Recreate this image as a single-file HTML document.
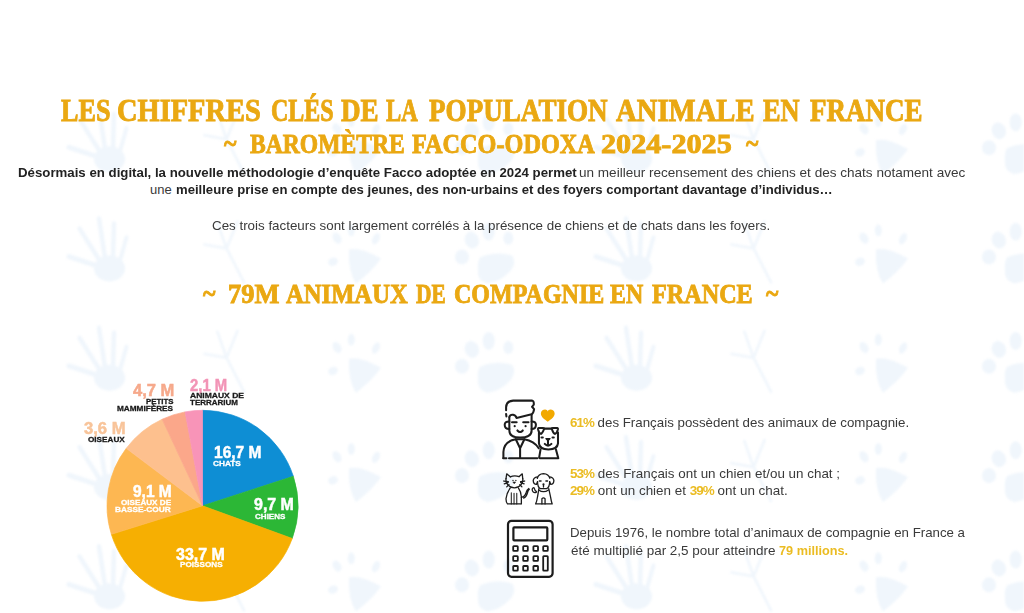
<!DOCTYPE html>
<html><head><meta charset="utf-8">
<style>
html,body{margin:0;padding:0;background:#fff;width:1024px;height:613px;overflow:hidden;}
body{position:relative;font-family:"Liberation Sans",sans-serif;}
.a{position:absolute;white-space:nowrap;transform-origin:0 0;line-height:1;}
.serif{font-family:"Liberation Serif",serif;font-weight:bold;color:#EAA812;-webkit-text-stroke:0.9px #EAA812;}
.p{font-size:13px;color:#3a3a3a;}
.p b{color:#222;}
.s{font-size:13px;color:#3a3a3a;}
.s b{color:#EBBC22;letter-spacing:-0.9px;}
.n{font-weight:bold;font-size:16px;-webkit-text-stroke:0.5px currentColor;}
.l{font-weight:bold;font-size:8px;color:#1a1a1a;-webkit-text-stroke:0.3px currentColor;}
.w{color:#fff;}
</style></head><body>
<svg class="bgp" style="position:absolute;left:0;top:0;filter:blur(0.9px)" width="1024" height="613" viewBox="0 0 1024 613">
<defs><pattern id="pp" patternUnits="userSpaceOnUse" x="0" y="212.5" width="527" height="109.3">
<g fill="#F0F6FC" stroke="none">
<ellipse cx="109.5" cy="56" rx="15.5" ry="13"/>
<g stroke="#F0F6FC" stroke-linecap="round" fill="none">
<path d="M96 53 L69 44" stroke-width="5"/>
<path d="M99 47 L79.5 16" stroke-width="4.5"/>
<path d="M105 45 L99 6" stroke-width="4.5"/>
<path d="M113 45 L114 11" stroke-width="4.5"/>
<path d="M120 48 L126.5 25" stroke-width="4"/>
<path d="M244 70 L226.6 36 L204.4 32 M226.6 36 L217.4 10 M226.6 36 L237.6 9" stroke-width="2.6"/>
</g>
<ellipse cx="337" cy="25.6" rx="4" ry="6" transform="rotate(-30 337 25.6)"/>
<ellipse cx="351.3" cy="17.8" rx="3.5" ry="6"/>
<ellipse cx="376" cy="26.2" rx="3.5" ry="6" transform="rotate(25 376 26.2)"/>
<ellipse cx="333" cy="49.2" rx="5" ry="4" transform="rotate(-20 333 49.2)"/>
<path d="M349 37 Q360 34 381 46 Q372 59 356 71 Q348 59 349 37 Z"/>
<ellipse cx="471.8" cy="27.6" rx="7" ry="8.5" transform="rotate(-20 471.8 27.6)"/>
<ellipse cx="488.7" cy="19.1" rx="6" ry="9"/>
<ellipse cx="508.3" cy="25.6" rx="5" ry="6.5"/>
<ellipse cx="462" cy="44.5" rx="7" ry="7.5"/>
<path d="M480 45 Q496 38 512 43 Q517 49 511 58 Q500 70 487 71 Q477 68 478 58 Q477 50 480 45 Z"/>
</g>
</pattern></defs>
<rect x="0" y="88" width="1024" height="525" fill="url(#pp)"/>
</svg>

<div class="a serif" id="t0" style="left:60.75px;top:93.70px;font-size:32px;transform:scaleX(0.8186);">LES</div>
<div class="a serif" id="t1" style="left:117.21px;top:93.70px;font-size:32px;transform:scaleX(0.8881);">CHIFFRES</div>
<div class="a serif" id="t2" style="left:270.97px;top:93.70px;font-size:32px;transform:scaleX(0.7500);">CLÉS</div>
<div class="a serif" id="t3" style="left:340.56px;top:93.70px;font-size:32px;transform:scaleX(0.8465);">DE</div>
<div class="a serif" id="t4" style="left:386.04px;top:93.70px;font-size:32px;transform:scaleX(0.7156);">LA</div>
<div class="a serif" id="t5" style="left:428.51px;top:93.70px;font-size:32px;transform:scaleX(0.8469);">POPULATION</div>
<div class="a serif" id="t6" style="left:616.00px;top:93.70px;font-size:32px;transform:scaleX(0.8961);">ANIMALE</div>
<div class="a serif" id="t7" style="left:763.07px;top:93.70px;font-size:32px;transform:scaleX(0.8244);">EN</div>
<div class="a serif" id="t8" style="left:809.56px;top:93.70px;font-size:32px;transform:scaleX(0.8447);">FRANCE</div>
<div class="a serif" id="subt1" style="left:224.00px;top:129.00px;font-size:28px;transform:scaleX(0.8533);">~</div>
<div class="a serif" id="u0" style="left:249.51px;top:130.00px;font-size:28px;transform:scaleX(0.8426);">BAROMÈTRE</div>
<div class="a serif" id="u1" style="left:411.70px;top:130.00px;font-size:28px;transform:scaleX(0.8664);">FACCO-ODOXA</div>
<div class="a serif" id="u2" style="left:601.46px;top:130.00px;font-size:28px;transform:scaleX(1.0777);">2024-2025</div>
<div class="a serif" id="subt2" style="left:745.77px;top:129.00px;font-size:28px;transform:scaleX(0.8467);">~</div>

<div class="a p" id="p1a" style="left:17.60px;top:165.50px;transform:scaleX(1.0190);"><b>Désormais en digital, la nouvelle méthodologie d’enquête Facco adoptée en 2024 permet</b></div>
<div class="a p" id="p1b" style="left:578.96px;top:165.50px;transform:scaleX(1.0419);">un meilleur recensement des chiens et des chats notament avec</div>
<div class="a p" id="p2a" style="left:150.10px;top:183.20px;transform:scaleX(1.0000);">une</div>
<div class="a p" id="p2b" style="left:176.40px;top:183.20px;transform:scaleX(1.0078);"><b>meilleure prise en compte des jeunes, des non-urbains et des foyers comportant davantage d’individus…</b></div>
<div class="a p" id="p3" style="left:212.19px;top:219.3px;transform:scaleX(1.0271);">Ces trois facteurs sont largement corrélés à la présence de chiens et de chats dans les foyers.</div>

<div class="a serif" id="h2t1" style="left:203.26px;top:279.00px;font-size:28px;transform:scaleX(0.8533);">~</div>
<div class="a serif" id="v0" style="left:228.11px;top:280.00px;font-size:28px;transform:scaleX(0.9434);">79M</div>
<div class="a serif" id="v1" style="left:285.71px;top:280.00px;font-size:28px;transform:scaleX(0.8790);">ANIMAUX</div>
<div class="a serif" id="v2" style="left:416.24px;top:280.00px;font-size:28px;transform:scaleX(0.7632);">DE</div>
<div class="a serif" id="v3" style="left:453.70px;top:280.00px;font-size:28px;transform:scaleX(0.8578);">COMPAGNIE</div>
<div class="a serif" id="v4" style="left:610.44px;top:280.00px;font-size:28px;transform:scaleX(0.8538);">EN</div>
<div class="a serif" id="v5" style="left:652.48px;top:280.00px;font-size:28px;transform:scaleX(0.8635);">FRANCE</div>
<div class="a serif" id="h2t2" style="left:765.77px;top:279.00px;font-size:28px;transform:scaleX(0.8467);">~</div>

<svg class="a" style="left:0;top:0" width="1024" height="613" viewBox="0 0 1024 613" id="pie">
<path fill="#0E8ED4" stroke="#0E8ED4" stroke-width="0.7" stroke-linejoin="round" d="M202.5 505.8L202.50 410.30A95.5 95.5 0 0 1 293.33 476.29Z"/>
<path fill="#2CB736" stroke="#2CB736" stroke-width="0.7" stroke-linejoin="round" d="M202.5 505.8L293.33 476.29A95.5 95.5 0 0 1 292.24 538.46Z"/>
<path fill="#F6AF02" stroke="#F6AF02" stroke-width="0.7" stroke-linejoin="round" d="M202.5 505.8L292.24 538.46A95.5 95.5 0 0 1 111.37 534.36Z"/>
<path fill="#FDB752" stroke="#FDB752" stroke-width="0.7" stroke-linejoin="round" d="M202.5 505.8L111.37 534.36A95.5 95.5 0 0 1 126.23 448.33Z"/>
<path fill="#FDC08E" stroke="#FDC08E" stroke-width="0.7" stroke-linejoin="round" d="M202.5 505.8L126.23 448.33A95.5 95.5 0 0 1 162.14 419.25Z"/>
<path fill="#FBA78A" stroke="#FBA78A" stroke-width="0.7" stroke-linejoin="round" d="M202.5 505.8L162.14 419.25A95.5 95.5 0 0 1 185.10 411.90Z"/>
<path fill="#F894B8" stroke="#F894B8" stroke-width="0.7" stroke-linejoin="round" d="M202.5 505.8L185.10 411.90A95.5 95.5 0 0 1 202.50 410.30Z"/>
</svg>
<div class="a n w" id="n1" style="left:214.43px;top:445.00px;transform:scaleX(0.9702);">16,7 M</div>
<div class="a l w" id="l1" style="left:213.20px;top:460.10px;transform:scaleX(1.0333);">CHATS</div>
<div class="a n w" id="n2" style="left:253.60px;top:497.10px;transform:scaleX(0.9974);">9,7 M</div>
<div class="a l w" id="l2" style="left:255.00px;top:512.60px;transform:scaleX(1.0067);">CHIENS</div>
<div class="a n w" id="n3" style="left:176.10px;top:546.80px;transform:scaleX(0.9979);">33,7 M</div>
<div class="a l w" id="l3" style="left:180.40px;top:561.40px;transform:scaleX(1.0190);">POISSONS</div>
<div class="a n w" id="n4" style="left:133.30px;top:484.30px;transform:scaleX(0.9667);">9,1 M</div>
<div class="a l w" id="l4a" style="left:121.30px;top:498.50px;transform:scaleX(1.0143);">OISEAUX DE</div>
<div class="a l w" id="l4b" style="left:115.00px;top:505.70px;transform:scaleX(1.0370);">BASSE-COUR</div>
<div class="a n" id="n5" style="left:84.20px;top:420.70px;color:#F8C49A;transform:scaleX(1.0385);">3,6 M</div>
<div class="a l" id="l5" style="left:88.00px;top:436.30px;transform:scaleX(1.0194);">OISEAUX</div>
<div class="a n" id="n6" style="left:133.40px;top:382.90px;color:#F6A98B;transform:scaleX(1.0333);">4,7 M</div>
<div class="a l" id="l6a" style="left:146.30px;top:397.60px;transform:scaleX(0.9786);">PETITS</div>
<div class="a l" id="l6b" style="left:117.30px;top:405.30px;transform:scaleX(1.0255);">MAMMIFÈRES</div>
<div class="a n" id="n7" style="left:190.30px;top:377.80px;color:#F294B6;transform:scaleX(0.9282);">2,1 M</div>
<div class="a l" id="l7a" style="left:190.30px;top:392.10px;transform:scaleX(1.0660);">ANIMAUX DE</div>
<div class="a l" id="l7b" style="left:190.30px;top:398.70px;transform:scaleX(0.9979);">TERRARIUM</div>


<svg class="a" id="ic1" style="left:498px;top:396px" width="64" height="66" viewBox="0 0 594 613">
<g fill="none" stroke="#1c1c1c" stroke-width="19" stroke-linecap="round" stroke-linejoin="round">
<path d="M75 133 L75 105 Q78 45 140 43 L318 43 Q335 48 332 80 L316 100 L335 122 Q330 160 312 170 Q240 188 172 205 Q165 180 140 175 Q112 172 105 195"/>
<path d="M75 167 L78 190"/>
<path d="M105 200 L105 320 Q105 386 205 386 Q312 386 312 320 L312 172"/>
<path d="M105 236 Q62 236 62 266 Q62 306 105 306"/>
<path d="M312 236 Q352 236 352 266 Q352 306 312 306"/>
<path d="M130 243 L173 243 M234 243 L283 243"/>
<path d="M180 320 Q205 348 230 320"/>
<path d="M50 575 L50 520 Q55 420 165 402 L245 402 Q335 418 378 485"/>
<path d="M165 402 L205 485 L245 402 M205 485 L205 575"/>
<path d="M48 578 L78 578 M102 578 L365 578 M388 578 L560 578"/>
<path d="M428 303 L499 303"/>
<path d="M380 340 L380 440 Q385 496 468 496 Q552 496 557 440 L557 340"/>
<path d="M378 298 Q370 298 372 310 Q380 345 398 352 Q410 350 428 305 Q430 298 420 298 Z M507 298 Q497 298 499 305 Q515 350 530 352 Q548 345 556 310 Q558 298 550 298 Z"/>
<path d="M404 385 L416 385 M506 385 L518 385"/>
<path d="M464 410 L464 455 M434 445 Q464 478 496 445"/>
<path d="M395 496 L382 572 M538 496 L558 572"/>
</g>
<circle cx="155" cy="280" r="10" fill="#1c1c1c"/><circle cx="256" cy="280" r="10" fill="#1c1c1c"/>
<path d="M444 396 L484 396 L464 418 Z" fill="#1c1c1c" stroke="#1c1c1c" stroke-width="10" stroke-linejoin="round"/>
<path fill="#F2A900" d="M462 240 C430 215 398 195 398 163 C398 138 418 126 437 126 C450 126 458 133 462 143 C466 133 474 126 487 126 C506 126 526 138 526 163 C526 195 494 215 462 240 Z"/>
</svg>
<svg class="a" id="ic2" style="left:500px;top:468px" width="58" height="42" viewBox="0 0 847 613">
<g fill="none" stroke="#1c1c1c" stroke-width="19" stroke-linecap="round" stroke-linejoin="round">
<path d="M150 128 Q210 105 280 125"/>
<path d="M150 128 L98 85 L88 155 M280 125 L325 85 L332 155"/>
<path d="M88 155 Q80 205 112 243 Q150 290 210 290 Q270 290 308 243 Q340 205 332 155"/>
<path d="M55 190 L122 200 M62 232 L118 215 M98 275 L132 242 M360 190 L300 200 M352 232 L302 215 M320 275 L290 242"/>
<path d="M150 290 Q95 370 88 445 Q86 505 110 525 L300 525"/>
<path d="M165 360 L165 525 M205 370 L205 525 M245 370 L245 525" stroke-width="15"/>
<path d="M268 290 Q305 340 312 420 L312 525"/>
<path d="M312 430 Q362 420 380 360 Q392 315 420 300 M345 440 Q385 425 400 365 Q410 325 428 310"/>
<path d="M545 150 Q560 85 635 82 Q710 85 728 150"/>
<path d="M545 130 Q490 140 485 185 Q490 240 532 240 L548 200 M728 130 Q782 140 787 185 Q782 240 742 240 L725 200"/>
<path d="M548 200 Q548 280 590 300 L680 300 Q725 280 725 200"/>
<path d="M575 190 L600 190 M670 190 L695 190 M635 255 L635 278"/>
<path d="M565 320 Q635 372 708 320"/>
<path d="M568 300 L548 420 Q540 480 520 525 L762 525 Q748 480 738 420 L712 300"/>
<path d="M612 525 L612 448 Q635 425 658 448 L658 525"/>
<path d="M530 355 Q470 370 470 310 Q478 282 498 290 Q508 330 532 345"/>
</g>
<circle cx="190" cy="182" r="10" fill="#1c1c1c"/><circle cx="232" cy="182" r="10" fill="#1c1c1c"/>
<path d="M188 205 L228 205 L208 230 Z" fill="#1c1c1c" stroke="#1c1c1c" stroke-width="8" stroke-linejoin="round"/>
<circle cx="635" cy="240" r="16" fill="#1c1c1c"/>
</svg>
<svg class="a" id="ic3" style="left:505px;top:518px" width="50" height="61" viewBox="0 0 50 61">
<g fill="none" stroke="#1c1c1c" stroke-width="2.2" stroke-linejoin="round">
<rect x="3" y="2.8" width="44.6" height="56" rx="3.5"/>
<rect x="8.4" y="9.4" width="33.9" height="12.9" rx="0.8"/>
<g stroke-width="1.8">
<rect x="8.2" y="28.2" width="4.6" height="4.6" rx="0.6"/><rect x="18.2" y="28.2" width="4.6" height="4.6" rx="0.6"/><rect x="28.4" y="28.2" width="4.6" height="4.6" rx="0.6"/><rect x="38.2" y="28.2" width="4.6" height="4.6" rx="0.6"/>
<rect x="8.2" y="38.2" width="4.6" height="4.6" rx="0.6"/><rect x="18.2" y="38.2" width="4.6" height="4.6" rx="0.6"/><rect x="28.4" y="38.2" width="4.6" height="4.6" rx="0.6"/>
<rect x="8.2" y="48" width="4.6" height="4.6" rx="0.6"/><rect x="18.2" y="48" width="4.6" height="4.6" rx="0.6"/><rect x="28.4" y="48" width="4.6" height="4.6" rx="0.6"/>
<rect x="38.2" y="38.2" width="4.6" height="14.4" rx="0.6"/>
</g></g>
</svg>
<div class="a s" id="s1" style="left:570.39px;top:416.20px;transform:scaleX(1.0239);"><b>61%</b> des Français possèdent des animaux de compagnie.</div>
<div class="a s" id="s2" style="left:570.39px;top:466.60px;transform:scaleX(1.0314);"><b>53%</b> des Français ont un chien et/ou un chat ;</div>
<div class="a s" id="s3" style="left:570.39px;top:484.00px;transform:scaleX(1.0333);"><b>29%</b> ont un chien et <b>39%</b> ont un chat.</div>
<div class="a s" id="s4" style="left:570.37px;top:526.3px;transform:scaleX(1.0196);">Depuis 1976, le nombre total d’animaux de compagnie en France a</div>
<div class="a s" id="s5" style="left:570.59px;top:544.00px;transform:scaleX(1.0365);">été multiplié par 2,5 pour atteindre</div>
<div class="a s" id="s5b" style="left:779.40px;top:544.00px;transform:scaleX(0.9757);"><b style="letter-spacing:0">79 millions.</b></div>
</body></html>
